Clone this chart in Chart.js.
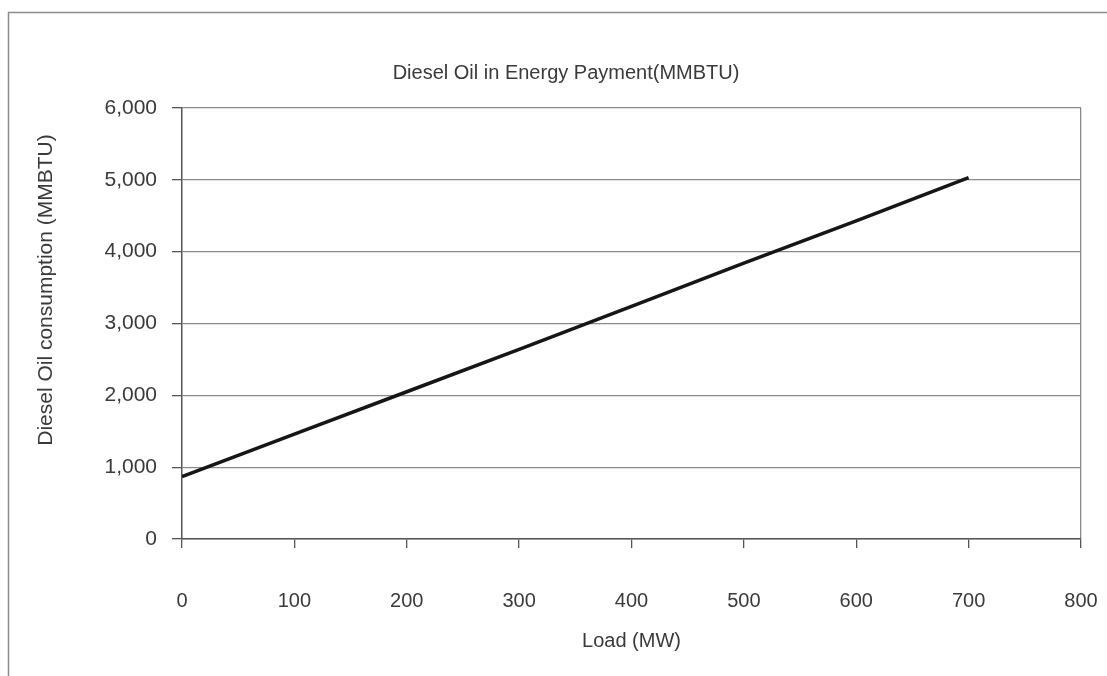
<!DOCTYPE html>
<html>
<head>
<meta charset="utf-8">
<title>Diesel Oil in Energy Payment</title>
<script src="https://cdn.jsdelivr.net/npm/chart.js@4/dist/chart.umd.min.js"></script>
<style>
  html, body { margin: 0; padding: 0; background: #ffffff; }
  #wrap { width: 1107px; height: 676px; }
</style>
</head>
<body>
<div id="wrap"><canvas id="chart" width="1107" height="676"></canvas></div>
<script>
// Load (MW) and diesel oil consumption (MMBTU)
const loadMW = [0, 100, 200, 300, 400, 500, 600, 700];
const consumption = [870, 1460, 2050, 2640, 3240, 3840, 4430, 5030];

const chartTitle = 'Diesel Oil in Energy Payment(MMBTU)';
const xAxisTitle = 'Load (MW)';
const yAxisTitle = 'Diesel Oil consumption (MMBTU)';

const xMin = 0, xMax = 800, xStep = 100;
const yMin = 0, yMax = 6000, yStep = 1000;

const FONT = '"Liberation Sans", Arial, sans-serif';
const TEXT = '#3a3a3a';
const GRID = '#8a8a8a';
const AXIS = '#555555';

// Outer frame, chart title and the rotated y-axis title
const decorations = {
  id: 'decorations',
  afterDraw(chart) {
    const ctx = chart.ctx;
    ctx.save();
    ctx.strokeStyle = '#8c8c8c';
    ctx.lineWidth = 1.5;
    ctx.beginPath();
    ctx.moveTo(8.5, chart.height);
    ctx.lineTo(8.5, 12.5);
    ctx.lineTo(chart.width, 12.5);
    ctx.stroke();

    ctx.fillStyle = TEXT;
    ctx.font = '20px ' + FONT;
    ctx.textAlign = 'center';
    ctx.textBaseline = 'alphabetic';
    ctx.fillText(chartTitle, 566, 79);

    ctx.font = '21px ' + FONT;
    ctx.translate(46, 290);
    ctx.rotate(-Math.PI / 2);
    ctx.textBaseline = 'middle';
    ctx.fillText(yAxisTitle, 0, 0);
    ctx.restore();
  }
};

new Chart(document.getElementById('chart'), {
  type: 'line',
  data: {
    datasets: [{
      label: chartTitle,
      data: loadMW.map((x, i) => ({ x: x, y: consumption[i] })),
      borderColor: '#161616',
      borderWidth: 3.5,
      pointRadius: 0,
      tension: 0,
      fill: false
    }]
  },
  options: {
    responsive: false,
    animation: false,
    layout: { padding: { top: 108, right: 26, left: 0, bottom: 0 } },
    plugins: {
      legend: { display: false },
      title: { display: false },
      tooltip: { enabled: false }
    },
    scales: {
      x: {
        type: 'linear',
        min: xMin,
        max: xMax,
        afterFit(scale) {
          scale.height = 137;
          scale.paddingLeft = 0;
          scale.paddingRight = 0;
        },
        ticks: {
          stepSize: xStep,
          padding: 41,
          color: TEXT,
          font: { family: FONT, size: 20 },
          maxRotation: 0
        },
        grid: {
          color: c => (c.tick && c.tick.value === xMax) ? GRID : 'rgba(0,0,0,0)',
          tickColor: AXIS,
          tickLength: 9,
          lineWidth: 1.3
        },
        border: { display: true, color: AXIS, width: 1.5 },
        title: {
          display: true,
          text: xAxisTitle,
          color: TEXT,
          font: { family: FONT, size: 20 },
          padding: { top: 0, bottom: 23 }
        }
      },
      y: {
        type: 'linear',
        min: yMin,
        max: yMax,
        afterFit(scale) {
          scale.width = 182;
          scale.paddingTop = 0;
          scale.paddingBottom = 0;
        },
        ticks: {
          stepSize: yStep,
          padding: 15,
          color: TEXT,
          font: { family: FONT, size: 21 },
          callback: v => Number(v).toLocaleString('en-US')
        },
        grid: {
          color: GRID,
          tickColor: AXIS,
          tickLength: 10,
          lineWidth: 1.3
        },
        border: { display: true, color: AXIS, width: 1.5 }
      }
    }
  },
  plugins: [decorations]
});
</script>
</body>
</html>
